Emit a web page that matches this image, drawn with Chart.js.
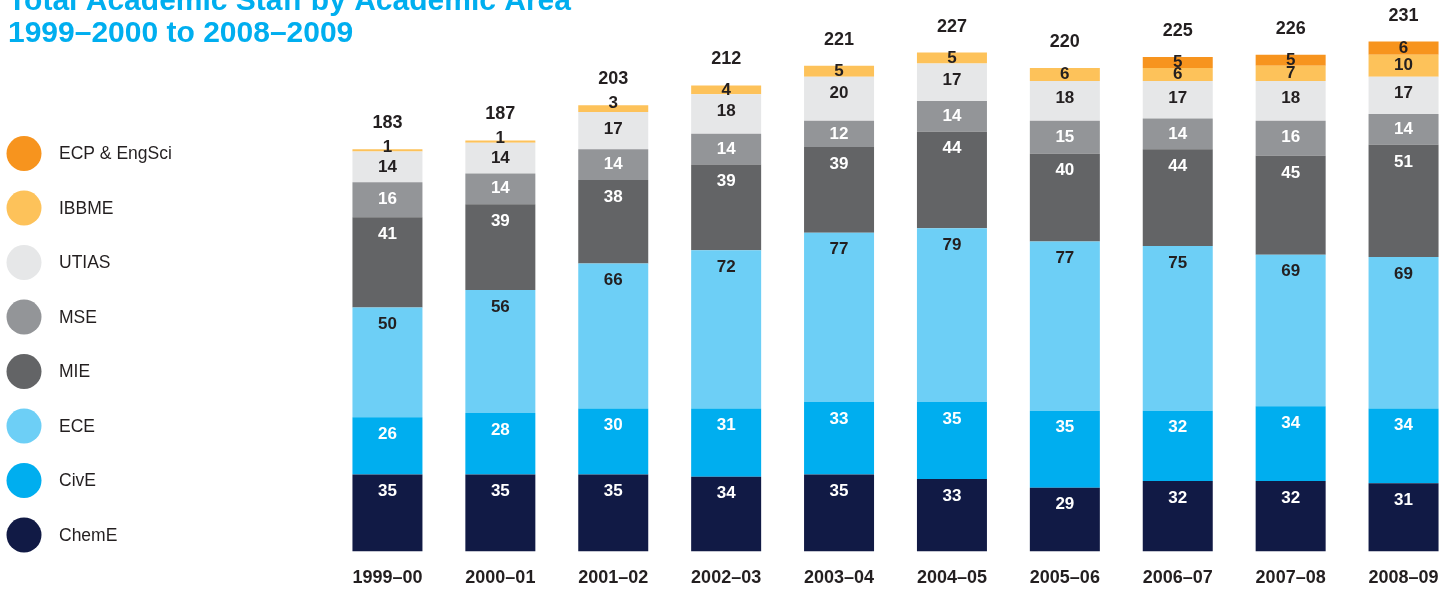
<!DOCTYPE html>
<html>
<head>
<meta charset="utf-8">
<script src="https://cdn.jsdelivr.net/npm/chart.js@4.4.1/dist/chart.umd.min.js"></script>
<style>
  html, body { margin: 0; padding: 0; background: #fff; overflow: hidden; }
  #wrap { position: relative; width: 1460px; height: 605px; }
</style>
</head>
<body>
<div id="wrap"><canvas id="staffChart"></canvas></div>
<script>
// Data
var years = ['1999–00', '2000–01', '2001–02', '2002–03', '2003–04', '2004–05', '2005–06', '2006–07', '2007–08', '2008–09'];
var chemE = [35, 35, 35, 34, 35, 33, 29, 32, 32, 31];
var civE = [26, 28, 30, 31, 33, 35, 35, 32, 34, 34];
var ece = [50, 56, 66, 72, 77, 79, 77, 75, 69, 69];
var mie = [41, 39, 38, 39, 39, 44, 40, 44, 45, 51];
var mse = [16, 14, 14, 14, 12, 14, 15, 14, 16, 14];
var utias = [14, 14, 17, 18, 20, 17, 18, 17, 18, 17];
var ibbme = [1, 1, 3, 4, 5, 5, 6, 6, 7, 10];
var ecp = [null, null, null, null, null, null, null, 5, 5, 6];
var totals = [183, 187, 203, 212, 221, 227, 220, 225, 226, 231];

var titleLines = ['Total Academic Staff by Academic Area', '1999–2000 to 2008–2009'];
var dark = '#231f20';

function series(label, data, color, textColor) {
  return {
    label: label,
    data: data,
    backgroundColor: color,
    borderWidth: 0,
    textColor: textColor,
    barPercentage: 0.62,
    categoryPercentage: 1
  };
}

// Title, legend and value labels are drawn by this small plugin
var decorPlugin = {
  id: 'decor',
  afterDatasetsDraw: function(chart) {
    var ctx = chart.ctx;
    var yScale = chart.scales.y;
    ctx.save();

    // segment labels
    ctx.textAlign = 'center';
    ctx.textBaseline = 'middle';
    ctx.font = 'bold 17px "Liberation Sans", Arial, sans-serif';
    chart.data.datasets.forEach(function(ds, di) {
      var meta = chart.getDatasetMeta(di);
      meta.data.forEach(function(el, i) {
        var v = ds.data[i];
        if (v === null || v === undefined) return;
        var top = el.y, base = el.base;
        var h = base - top;
        var cy;
        if (h > 34) cy = top + 17;
        else if (h < 8) cy = top - 2;
        else cy = (top + base) / 2;
        ctx.fillStyle = ds.textColor;
        ctx.fillText(String(v), el.x, cy);
      });
    });

    // totals above the stacks
    ctx.font = 'bold 18px "Liberation Sans", Arial, sans-serif';
    ctx.fillStyle = dark;
    var firstMeta = chart.getDatasetMeta(0);
    totals.forEach(function(t, i) {
      var sum = 0;
      chart.data.datasets.forEach(function(ds) { sum += ds.data[i] || 0; });
      var yTop = yScale.getPixelForValue(sum);
      ctx.fillText(String(t), firstMeta.data[i].x, yTop - 26);
    });

    // legend, top item = last dataset
    var dsList = chart.data.datasets.slice().reverse();
    ctx.textAlign = 'left';
    ctx.font = '17.5px "Liberation Sans", Arial, sans-serif';
    dsList.forEach(function(ds, k) {
      var cy = 153.5 + k * 54.5;
      ctx.beginPath();
      ctx.arc(24, cy, 17.5, 0, Math.PI * 2);
      ctx.fillStyle = ds.backgroundColor;
      ctx.fill();
      ctx.fillStyle = dark;
      ctx.fillText(ds.label, 59, cy + 1);
    });

    // title
    ctx.textBaseline = 'alphabetic';
    ctx.font = 'bold 30px "Liberation Sans", Arial, sans-serif';
    ctx.fillStyle = '#00aeef';
    ctx.fillText(titleLines[0], 8, 10);
    ctx.fillText(titleLines[1], 8, 42);

    ctx.restore();
  }
};

var canvas = document.getElementById('staffChart');
var chart = new Chart(canvas.getContext('2d'), {
  type: 'bar',
  data: {
    labels: years,
    datasets: [
      series('ChemE', chemE, '#111a45', '#ffffff'),
      series('CivE', civE, '#00aeef', '#ffffff'),
      series('ECE', ece, '#6dcff6', dark),
      series('MIE', mie, '#636466', '#ffffff'),
      series('MSE', mse, '#939598', '#ffffff'),
      series('UTIAS', utias, '#e6e7e8', dark),
      series('IBBME', ibbme, '#fdc25a', dark),
      series('ECP & EngSci', ecp, '#f7941e', dark)
    ]
  },
  options: {
    responsive: true,
    maintainAspectRatio: false,
    animation: false,
    layout: { padding: { left: 331, right: 0, top: 2, bottom: 0 } },
    plugins: {
      legend: { display: false },
      title: { display: false },
      tooltip: { enabled: false }
    },
    scales: {
      x: {
        stacked: true,
        grid: { display: false, drawTicks: false },
        border: { display: false },
        ticks: {
          color: dark,
          padding: 16,
          font: { family: '"Liberation Sans", Arial, sans-serif', size: 18, weight: 'bold' }
        }
      },
      y: {
        stacked: true,
        display: false,
        min: 0,
        max: 250
      }
    }
  },
  plugins: [decorPlugin]
});
</script>
</body>
</html>
